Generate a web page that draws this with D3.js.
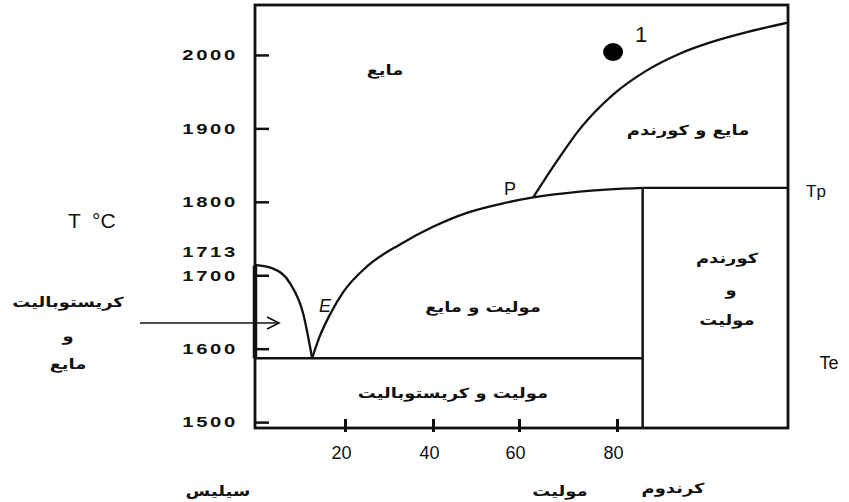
<!DOCTYPE html>
<html>
<head>
<meta charset="utf-8">
<script src="https://cdn.jsdelivr.net/npm/d3@7"></script>
<style>
  body { margin: 0; background: #fff; }
  .fa { font-family: "DejaVu Sans", sans-serif; font-weight: bold; font-size: 14px; fill: #111; }
  .lat { font-family: "Liberation Sans", Arial, sans-serif; fill: #111; }
</style>
</head>
<body>
<div id="container"></div>
<script>

var width = 849, height = 502;

// tick values
var xTicks = [20, 40, 60, 80];
var yTicks = [1500, 1600, 1700, 1800, 1900, 2000];
var silicaMelt = 1713;

// invariant lines
var eutecticT = 1587;
var peritecticT = 1819;
var mulliteX = 83;

// liquidus curves [composition, temperature]
var cristobaliteLiquidus = [[0,1714],[4,1709],[7.8,1689],[10.7,1648],[12.7,1587]];
var mulliteLiquidus = [[12.7,1587],[14.4,1617],[16.7,1647],[19.6,1677],[25,1712],[32.5,1742],[40,1766],[47.9,1785],[55.6,1797],[62.9,1806],[72.4,1814],[83,1819]];
var corundumLiquidus = [[62.9,1806],[67.8,1856],[72.4,1899],[79.2,1946],[83.5,1979],[87.4,2002],[91.2,2018],[95.2,2031],[100,2044]];

var point1 = [79.2, 2004];

var svg = d3.select('#container')
	.append('svg')
	.attr('width', width)
	.attr('height', height);

// the original drawing is not evenly spaced along x
var x = d3.scaleLinear()
	.domain([0, 20, 40, 60, 80, 100])
	.range([255, 345, 433, 519, 617, 788]);

var y = d3.scaleLinear()
	.domain([1492, 2068])
	.range([428, 5]);

var line = d3.line()
	.x(function(d){ return x(d[0]); })
	.y(function(d){ return y(d[1]); })
	.curve(d3.curveMonotoneX);

// axes
var yStretch = 1.35;
var yAxis = svg.append('g')
	.attr('transform', 'translate(' + x(0) + ',0)')
	.call(d3.axisLeft(y).tickValues(yTicks).tickSizeInner(-14).tickSizeOuter(0).tickPadding(17).tickFormat(d3.format('d')));
yAxis.select('.domain').remove();
yAxis.selectAll('line').attr('stroke', '#111').attr('stroke-width', 2.5);
yAxis.selectAll('text')
	.attr('class', 'lat')
	.attr('x', -17 / yStretch)
	.attr('transform', 'scale(' + yStretch + ',1)')
	.style('font-size', '15px')
	.style('font-weight', 'bold')
	.style('letter-spacing', '2px');

var xAxis = svg.append('g')
	.attr('transform', 'translate(0,' + y(1492) + ')')
	.call(d3.axisBottom(x).tickValues(xTicks).tickSize(4).tickPadding(14));
xAxis.select('.domain').remove();
xAxis.selectAll('line').attr('y1', -9).attr('y2', 4).attr('stroke', '#111').attr('stroke-width', 3);
xAxis.selectAll('text')
	.attr('class', 'lat')
	.attr('dx', -4)
	.style('font-size', '18px');

svg.append('text')
	.attr('class', 'lat')
	.attr('transform', 'translate(238,' + (y(silicaMelt) - 9) + ') scale(' + yStretch + ',1)')
	.attr('text-anchor', 'end')
	.style('font-size', '15px').style('font-weight', 'bold').style('letter-spacing', '2px')
	.text(silicaMelt);

// frame
svg.append('rect')
	.attr('x', x(0)).attr('y', y(2068))
	.attr('width', x(100) - x(0))
	.attr('height', y(1492) - y(2068))
	.style('fill', 'none')
	.style('stroke', '#111')
	.style('stroke-width', 2.8);

svg.append('line')
	.attr('x1', x(0)).attr('x2', x(0))
	.attr('y1', y(silicaMelt)).attr('y2', y(eutecticT))
	.style('stroke', '#111').style('stroke-width', 4.5);

// invariant lines
svg.append('line')
	.attr('x1', x(0)).attr('x2', x(mulliteX))
	.attr('y1', y(eutecticT)).attr('y2', y(eutecticT))
	.style('stroke', '#111').style('stroke-width', 2.5);

svg.append('line')
	.attr('x1', x(mulliteX)).attr('x2', x(100))
	.attr('y1', y(peritecticT)).attr('y2', y(peritecticT))
	.style('stroke', '#111').style('stroke-width', 2.2);

svg.append('line')
	.attr('x1', x(mulliteX)).attr('x2', x(mulliteX))
	.attr('y1', y(peritecticT)).attr('y2', y(1492))
	.style('stroke', '#111').style('stroke-width', 2.5);

// liquidus curves
[cristobaliteLiquidus, mulliteLiquidus, corundumLiquidus].forEach(function(c){
	svg.append('path')
		.attr('d', line(c))
		.style('fill', 'none')
		.style('stroke', '#111')
		.style('stroke-width', 2.3);
});

// point 1
svg.append('ellipse')
	.attr('cx', x(point1[0])).attr('cy', y(point1[1]))
	.attr('rx', 10).attr('ry', 9)
	.style('fill', '#000');

svg.append('text')
	.attr('class', 'lat')
	.attr('x', x(point1[0]) + 22).attr('y', y(point1[1]) - 10)
	.style('font-size', '22px')
	.text('1');

// arrow
var ay = 323;
svg.append('line')
	.attr('x1', 140).attr('x2', 279)
	.attr('y1', ay).attr('y2', ay)
	.style('stroke', '#111').style('stroke-width', 1.6);
svg.append('path')
	.attr('d', 'M267,' + (ay - 6) + 'L279,' + ay + 'L267,' + (ay + 6))
	.style('fill', 'none').style('stroke', '#111').style('stroke-width', 1.6);

// latin labels
var latin = [
	{t:'T  °C', x:68, y:228, s:21, a:'start'},
	{t:'P', x:510, y:195, s:18, a:'middle'},
	{t:'Tp', x:816, y:197, s:17, a:'middle'},
	{t:'Te', x:829, y:369, s:18, a:'middle'}
];
latin.forEach(function(d){
	svg.append('text')
		.attr('class', 'lat')
		.attr('x', d.x).attr('y', d.y)
		.attr('text-anchor', d.a)
		.style('font-size', d.s + 'px')
		.style('white-space', 'pre')
		.text(d.t);
});

svg.append('text')
	.attr('class', 'lat')
	.attr('x', 325).attr('y', 312)
	.attr('text-anchor', 'middle')
	.style('font-size', '18px')
	.style('font-style', 'italic')
	.text('E');

// persian labels
var faStretch = 1.28;
var farsi = [
	{t:'مایع', x:385, y:70},
	{t:'مایع و کورندم', x:688, y:130},
	{t:'مولیت و مایع', x:483, y:307},
	{t:'مولیت و کریستوبالیت', x:453, y:393},
	{t:'کورندم', x:727, y:258},
	{t:'و', x:731, y:290},
	{t:'مولیت', x:727, y:320},
	{t:'کریستوبالیت', x:68, y:302},
	{t:'و', x:68, y:336},
	{t:'مایع', x:68, y:364},
	{t:'سیلیس', x:218, y:491},
	{t:'مولیت', x:560, y:491},
	{t:'کرندوم', x:673, y:488}
];
farsi.forEach(function(d){
	svg.append('text')
		.attr('class', 'fa')
		.attr('transform', 'translate(' + d.x + ',' + d.y + ') scale(' + faStretch + ',1)')
		.attr('dy', '0.35em')
		.attr('text-anchor', 'middle')
		.attr('direction', 'rtl')
		.text(d.t);
});

</script>
</body>
</html>
